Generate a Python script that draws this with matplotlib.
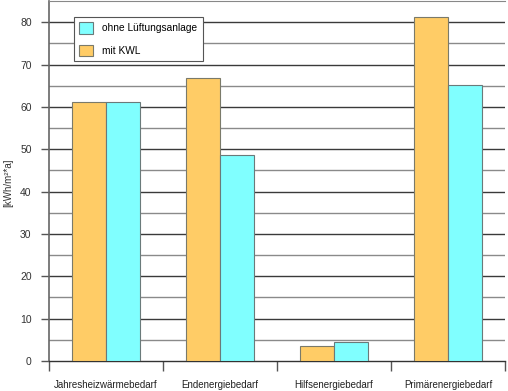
import numpy as np
import matplotlib
matplotlib.use("Agg")
import matplotlib.pyplot as plt
from matplotlib.ticker import MultipleLocator

categories = ["Jahresheizwärmebedarf", "Endenergiebedarf", "Hilfsenergiebedarf", "Primärenergiebedarf"]
mit_kwl = [61.2, 66.9, 3.5, 81.3]
ohne_lueftung = [61.2, 48.7, 4.4, 65.2]

plt.rcParams["font.family"] = ["Liberation Sans", "DejaVu Sans"]

fig = plt.figure(figsize=(5.08, 3.91), dpi=100)
ax = fig.add_axes([49 / 508, 30 / 391, 456 / 508, 360 / 391])

x = np.arange(len(categories))
w = 0.295
ax.bar(x - w / 2, mit_kwl, w, color="#FFCC66", edgecolor="#7a7a6a", linewidth=0.8, zorder=3, label="mit KWL")
ax.bar(x + w / 2, ohne_lueftung, w, color="#80FFFF", edgecolor="#6a7a7a", linewidth=0.8, zorder=3, label="ohne Lüftungsanlage")

ax.set_xlim(-0.5, 3.5)
ax.set_ylim(0, 85)

# grid: dark at 10s, lighter at 5s
for v in np.arange(5, 85, 10):
    ax.axhline(v, color="#8a8a8a", linewidth=1.0, zorder=1)
for v in np.arange(10, 85, 10):
    ax.axhline(v, color="#3a3a3a", linewidth=1.0, zorder=1)

ax.yaxis.set_major_locator(MultipleLocator(10))
ax.tick_params(axis="y", length=6, width=1.0, color="#555555", pad=6.5, labelsize=7.5, labelcolor="#333333")

ax.set_xticks(x)
ax.set_xticklabels(categories)
ax.set_xticks(np.arange(-0.5, 4, 1), minor=True)
ax.tick_params(axis="x", which="major", length=0, pad=14, labelsize=7, labelcolor="#222222")
ax.tick_params(axis="x", which="minor", length=7, width=1.0, color="#555555")

ax.spines["right"].set_visible(False)
ax.spines["top"].set_color("#888888")
ax.spines["left"].set_color("#666666")
ax.spines["bottom"].set_color("#333333")
ax.spines["left"].set_linewidth(1.2)
ax.spines["bottom"].set_linewidth(1.0)

fig.text(8.5 / 508, 1 - 183 / 391, "[kWh/m²*a]", rotation=90, ha="center", va="center",
         fontsize=7, color="#333333")

h, l = ax.get_legend_handles_labels()
leg = ax.legend(h[::-1], l[::-1], loc="upper left", bbox_to_anchor=(0.055, 0.955), borderaxespad=0,
                fontsize=7.3, fancybox=False, framealpha=1, edgecolor="#555555", borderpad=0.5,
                labelspacing=1.1, handlelength=1.35, handleheight=1.35, handletextpad=0.95)
leg.get_frame().set_linewidth(0.8)
leg.set_zorder(5)

fig.savefig("out.png", dpi=100)
